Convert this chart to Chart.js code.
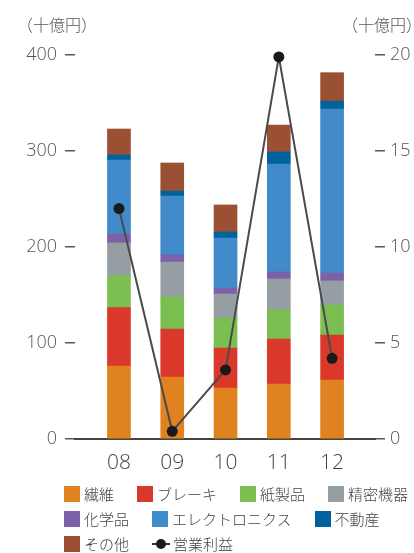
<!DOCTYPE html>
<html lang="ja">
<head>
<meta charset="utf-8">
<script src="https://cdn.jsdelivr.net/npm/chart.js@4/dist/chart.umd.min.js"></script>
<style>
  html, body { margin: 0; padding: 0; background: #fff; }
  #wrap { position: relative; width: 414px; height: 553px; overflow: hidden; }
  #chart { position: absolute; left: 0; top: 0; }
  .unit { position: absolute; top: 12px; font: 300 16px "Noto Sans CJK JP", sans-serif; color: #555; white-space: nowrap; line-height: 24px; }
  #legend { position: absolute; left: 64px; top: 481px; width: 360px; display: flex; flex-wrap: wrap; column-gap: 23px; font: 300 15px "Noto Sans CJK JP", sans-serif; color: #444; }
  .item { display: flex; align-items: center; height: 25px; white-space: nowrap; }
  .box { width: 16px; height: 16px; margin-right: 4px; }
  .mk { position: relative; width: 18px; height: 16px; margin-right: 3px; }
  .mk::before { content: ""; position: absolute; left: 0; right: 0; top: 7px; height: 2px; background: #333; }
  .mk::after { content: ""; position: absolute; left: 4px; top: 3px; width: 10px; height: 10px; border-radius: 50%; background: #1a1a1a; }
</style>
</head>
<body>
<div id="wrap">
  <canvas id="chart" width="414" height="553"></canvas>
  <div class="unit" style="left:17px">（十億円）</div>
  <div class="unit" style="left:342px">（十億円）</div>
  <div id="legend"></div>
</div>
<script>
// Fiscal years on the horizontal axis
const years = ['08', '09', '10', '11', '12'];

// Net sales by segment (billion yen)
const seni        = [76.0, 64.6, 53.1, 57.3, 61.5];
const brake       = [60.8, 50.0, 41.7, 46.9, 46.8];
const paper       = [33.3, 33.3, 31.2, 30.2, 31.3];
const precision   = [34.1, 36.5, 25.0, 32.3, 25.0];
const chemical    = [9.3, 7.3, 6.3, 7.3, 8.3];
const electronics = [77.1, 61.4, 52.1, 112.5, 170.8];
const realEstate  = [5.2, 5.2, 6.2, 12.5, 8.3];
const others      = [27.1, 29.2, 28.2, 28.0, 29.6];

// Operating income (billion yen, right axis)
const operatingIncome = [12.0, 0.4, 3.6, 19.9, 4.2];

// Axis tick values
const leftTicks = [0, 100, 200, 300, 400];
const rightTicks = [0, 5, 10, 15, 20];

const segmentNames = ['繊維', 'ブレーキ', '紙製品', '精密機器', '化学品', 'エレクトロニクス', '不動産', 'その他'];
const segmentValues = [seni, brake, paper, precision, chemical, electronics, realEstate, others];
const segmentColors = ['#E0821F', '#D9382A', '#7BBE51', '#959FA3', '#7B62A8', '#418BCA', '#00629B', '#9B5034'];
const incomeName = '営業利益';

const numFont = '"Open Sans", "Noto Sans", sans-serif';
const toPoints = arr => arr.map((v, i) => ({ x: i, y: v }));

const datasets = segmentNames.map((name, k) => ({
  type: 'bar',
  label: name,
  data: toPoints(segmentValues[k]),
  backgroundColor: segmentColors[k],
  borderWidth: 0,
  barThickness: 23,
  yAxisID: 'y',
  order: 1
}));

datasets.push({
  type: 'line',
  label: incomeName,
  data: toPoints(operatingIncome),
  yAxisID: 'y2',
  borderColor: '#4a4a4a',
  borderWidth: 2,
  pointRadius: 5.5,
  pointBackgroundColor: '#1a1a1a',
  pointBorderWidth: 0,
  tension: 0,
  clip: false,
  order: 0
});

const chart = new Chart(document.getElementById('chart'), {
  data: { datasets },
  options: {
    responsive: false,
    animation: false,
    layout: { padding: { top: 55, left: 0, right: 0, bottom: 0 } },
    plugins: { legend: { display: false }, tooltip: { enabled: false } },
    scales: {
      x: {
        type: 'linear',
        min: -0.825,
        max: 4.805,
        offset: false,
        stacked: true,
        grid: { display: false, drawTicks: false },
        border: { display: true, color: '#444', width: 2 },
        ticks: {
          padding: 11,
          color: '#444',
          font: { family: numFont, size: 21, weight: '300' },
          callback: v => years[v] ?? ''
        },
        afterBuildTicks: s => { s.ticks = years.map((_, i) => ({ value: i })); },
        afterFit: s => { s.height = 114; }
      },
      y: {
        position: 'left',
        min: 0,
        max: 400,
        stacked: true,
        grid: { drawOnChartArea: false, drawTicks: true, tickLength: 10, color: '#555', lineWidth: 1.5 },
        border: { display: false },
        ticks: {
          padding: 8,
          color: '#555',
          font: { family: numFont, size: 18, weight: '300' }
        },
        afterBuildTicks: s => { s.ticks = leftTicks.map(v => ({ value: v })); },
        afterFit: s => { s.width = 75; }
      },
      y2: {
        position: 'right',
        min: 0,
        max: 20,
        grid: { drawOnChartArea: false, drawTicks: true, tickLength: 10, color: '#555', lineWidth: 1.5 },
        border: { display: false },
        ticks: {
          padding: 5,
          color: '#555',
          font: { family: numFont, size: 18, weight: '300' }
        },
        afterBuildTicks: s => { s.ticks = rightTicks.map(v => ({ value: v })); },
        afterFit: s => { s.width = 39; }
      }
    }
  }
});

// Legend built from the chart's own datasets
const legend = document.getElementById('legend');
chart.data.datasets.forEach(ds => {
  const item = document.createElement('div');
  item.className = 'item';
  const mark = document.createElement('span');
  if (ds.type === 'bar') {
    mark.className = 'box';
    mark.style.background = ds.backgroundColor;
  } else {
    mark.className = 'mk';
  }
  const text = document.createElement('span');
  text.textContent = ds.label;
  item.appendChild(mark);
  item.appendChild(text);
  legend.appendChild(item);
});
</script>
</body>
</html>
